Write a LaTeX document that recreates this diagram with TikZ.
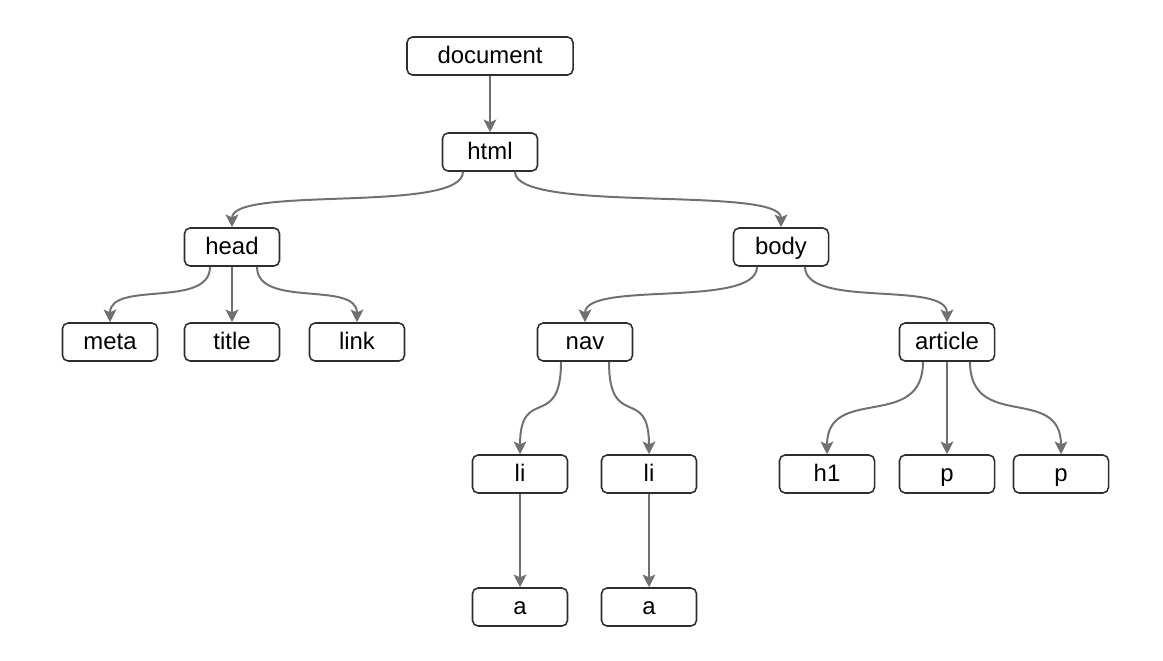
\documentclass[tikz,border=0pt]{standalone}
\usepackage{fontspec}
\setmainfont{Liberation Sans}
\usetikzlibrary{arrows.meta}
\definecolor{edgegray}{HTML}{707070}
\definecolor{boxline}{HTML}{2E2E2E}
\begin{document}
\begin{tikzpicture}[x=0.025cm,y=-0.025cm,
  tag/.style={draw=boxline,line width=1.1pt,rounded corners=4pt,fill=white,
    minimum width=2.375cm,minimum height=0.95cm,inner sep=0pt,
    font=\fontsize{17}{20}\selectfont,text height=12pt,text depth=1.5pt},
  link/.style={edgegray,line width=1.4pt,-{Stealth[length=9pt,width=9pt,inset=2pt]}},
  sbend/.style={to path={.. controls +(0,#1) and +(0,-#1) .. (\tikztotarget)}},
  sbend/.default=42]

\useasboundingbox[fill=white] (0,0) rectangle (1163,660);

\node[tag,minimum width=4.15cm] (doc) at (490, 56) {document};
\node[tag] (html) at (490, 152) {html};

\node[tag] (head) at (232, 247) {head};
\node[tag] (body) at (781, 247) {body};

\node[tag] (meta) at (110, 342) {meta};
\node[tag] (title) at (232, 342) {title};
\node[tag] (lnk) at (357, 342) {link};
\node[tag] (nav) at (585, 342) {nav};
\node[tag] (article) at (947, 342) {article};

\node[tag] (li1) at (520, 474) {li};
\node[tag] (li2) at (649, 474) {li};
\node[tag] (h1) at (827, 474) {h1};
\node[tag] (p1) at (947, 474) {p};
\node[tag] (p2) at (1061, 474) {p};

\node[tag] (a1) at (520, 607) {a};
\node[tag] (a2) at (649, 607) {a};

\draw[link] (doc) -- (html);

\draw[link] ([xshift=-0.675cm]html.south) to[sbend] (head.north);
\draw[link] ([xshift=0.625cm]html.south) to[sbend] (body.north);

\draw[link] ([xshift=-0.55cm]head.south) to[sbend] (meta.north);
\draw[link] (head) -- (title);
\draw[link] ([xshift=0.625cm]head.south) to[sbend] (lnk.north);

\draw[link] ([xshift=-0.6cm]body.south) to[sbend] (nav.north);
\draw[link] ([xshift=0.6cm]body.south) to[sbend] (article.north);

\draw[link] ([xshift=-0.6cm]nav.south) to[sbend=70] (li1.north);
\draw[link] ([xshift=0.6cm]nav.south) to[sbend=70] (li2.north);

\draw[link] ([xshift=-0.6cm]article.south) to[sbend=70] (h1.north);
\draw[link] (article) -- (p1);
\draw[link] ([xshift=0.575cm]article.south) to[sbend=70] (p2.north);

\draw[link] (li1) -- (a1);
\draw[link] (li2) -- (a2);

\end{tikzpicture}
\end{document}
